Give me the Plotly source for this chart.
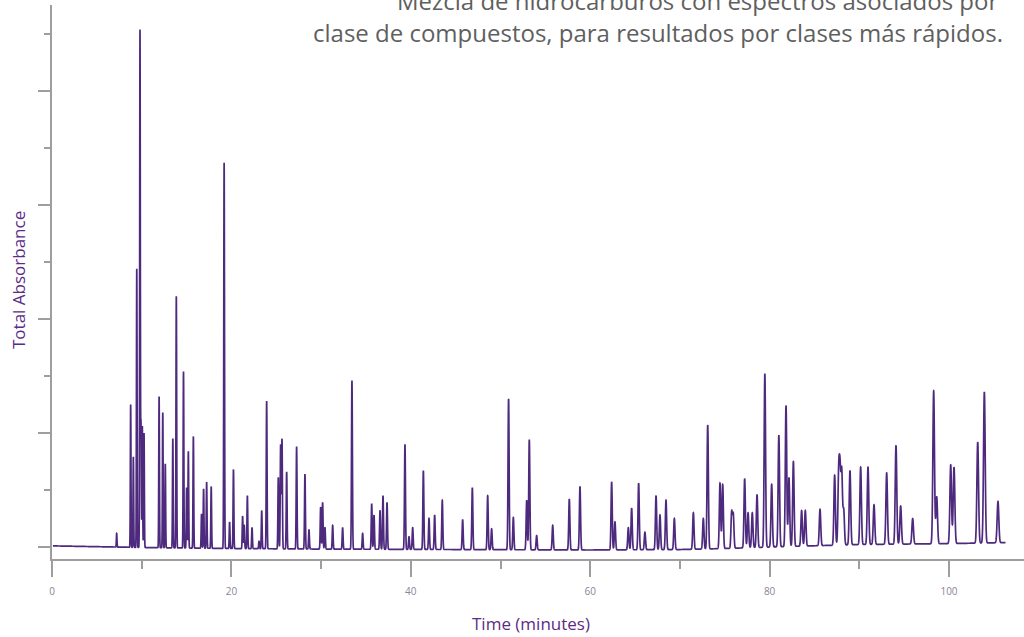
import numpy as np
import plotly.graph_objects as go

# Retention times (min) and apex absorbance of the resolved peaks
peak_times = [
    7.21, 8.77, 9.07, 9.45, 9.81, 9.92, 10.07, 10.26, 11.94, 12.35,
    12.63, 13.47, 13.86, 14.66, 15.01, 15.20, 15.76, 16.67, 16.90, 17.24,
    17.75, 19.19, 19.80, 20.23, 21.25, 21.43, 21.78, 22.30, 23.08, 23.38,
    23.93, 25.23, 25.49, 25.64, 26.16, 27.27, 28.20, 28.65, 29.95, 30.17,
    30.43, 31.29, 32.40, 33.44, 34.63, 35.64, 35.90, 36.57, 36.90, 37.35,
    39.35, 39.80, 40.21, 41.40, 42.03, 42.66, 43.51, 45.78, 46.86, 48.57,
    49.01, 50.90, 51.43, 52.92, 53.21, 54.03, 55.82, 57.67, 58.86, 62.39,
    62.76, 64.25, 64.62, 65.40, 66.10, 67.34, 67.78, 68.45, 69.38, 71.50,
    72.61, 73.10, 74.47, 74.77, 75.77, 75.95, 77.22, 77.60, 78.07, 78.60,
    79.47, 80.23, 81.03, 81.83, 82.16, 82.65, 83.57, 83.98, 85.62, 87.25,
    87.70, 87.85, 88.04, 88.26, 88.96, 90.15, 90.97, 91.64, 93.05, 94.09,
    94.61, 95.95, 98.29, 98.63, 100.19, 100.56, 103.20, 103.94, 105.46,
]
peak_heights = [
    0.12, 1.25, 0.79, 2.44, 4.54, 1.11, 1.06, 1.00, 1.32, 1.18,
    0.73, 0.95, 2.20, 1.54, 0.52, 0.84, 0.97, 0.29, 0.51, 0.57,
    0.53, 3.37, 0.22, 0.68, 0.27, 0.19, 0.45, 0.17, 0.05, 0.32,
    1.28, 0.61, 0.90, 0.95, 0.66, 0.88, 0.64, 0.15, 0.35, 0.39,
    0.17, 0.19, 0.17, 1.46, 0.12, 0.38, 0.28, 0.32, 0.45, 0.39,
    0.90, 0.09, 0.17, 0.67, 0.25, 0.28, 0.41, 0.24, 0.52, 0.45,
    0.16, 1.30, 0.26, 0.41, 0.94, 0.10, 0.19, 0.42, 0.53, 0.57,
    0.22, 0.17, 0.34, 0.56, 0.13, 0.45, 0.28, 0.41, 0.25, 0.30,
    0.25, 1.07, 0.56, 0.55, 0.32, 0.30, 0.60, 0.30, 0.30, 0.46,
    1.52, 0.55, 0.98, 1.24, 0.61, 0.75, 0.32, 0.32, 0.33, 0.63,
    0.73, 0.78, 0.70, 0.34, 0.67, 0.70, 0.70, 0.37, 0.65, 0.89,
    0.36, 0.25, 1.37, 0.44, 0.72, 0.70, 0.92, 1.36, 0.40,
]

# Baseline drift over the run
baseline_times = [0.1, 10, 20, 30, 45, 60, 70, 75, 80, 90, 100, 106.3]
baseline_levels = [0.01, -0.004, -0.013, -0.018, -0.022, -0.026, -0.022,
                   -0.013, 0.0, 0.022, 0.030, 0.039]

run_start, run_end = 0.1, 106.3

PURPLE = "#4e2a7e"
AXIS_GREY = "#9e9e9e"
FONT = "Open Sans"

# Peak profiles: Gaussian, widening slowly with retention time
pt = np.asarray(peak_times)
ph = np.asarray(peak_heights)
sig = 0.03 + 0.0006 * pt

# Scale each profile so the summed trace reaches the listed apex values
above_base = ph - np.interp(pt, baseline_times, baseline_levels)
overlap = np.exp(-0.5 * ((pt[:, None] - pt[None, :]) / sig[None, :]) ** 2)
amps = np.linalg.solve(overlap, above_base)

t = np.union1d(np.arange(run_start, run_end, 0.004), pt)
signal = np.interp(t, baseline_times, baseline_levels)
for tp, a, s in zip(pt, amps, sig):
    signal = signal + a * np.exp(-0.5 * ((t - tp) / s) ** 2)

fig = go.Figure(
    go.Scatter(
        x=t, y=signal, mode="lines",
        line=dict(color=PURPLE, width=1.7, simplify=False),
        hoverinfo="skip", showlegend=False,
    )
)

fig.update_layout(
    width=1024, height=637,
    margin=dict(l=52, r=0, t=5, b=78),
    paper_bgcolor="white", plot_bgcolor="white",
    font=dict(family=FONT),
    xaxis=dict(
        range=[0, 108.36],
        showgrid=False, zeroline=False,
        showline=True, linecolor=AXIS_GREY, linewidth=2,
        ticks="outside", tick0=0, dtick=20, ticklen=16, tickwidth=2,
        tickcolor=AXIS_GREY,
        minor=dict(ticks="outside", dtick=10, ticklen=8, tickwidth=2,
                   tickcolor=AXIS_GREY),
        tickfont=dict(family=FONT, size=10, color="#8a8599"),
        ticklabelstandoff=6,
    ),
    yaxis=dict(
        range=[-0.105, 4.754],
        showgrid=False, zeroline=False,
        showline=True, linecolor=AXIS_GREY, linewidth=2,
        ticks="outside", tick0=0, dtick=1, ticklen=12, tickwidth=2,
        tickcolor=AXIS_GREY,
        minor=dict(ticks="outside", dtick=0.5, ticklen=6, tickwidth=2,
                   tickcolor=AXIS_GREY),
        showticklabels=False,
    ),
    annotations=[
        dict(text="Mezcla de hidrocarburos con espectros asociados por",
             xref="paper", yref="paper", x=0.975, y=(559 - 1) / 554,
             xanchor="right", yanchor="middle", showarrow=False,
             font=dict(family=FONT, size=24, color="#5f5f5f")),
        dict(text="clase de compuestos, para resultados por clases más rápidos.",
             xref="paper", yref="paper", x=0.980, y=(559 - 32) / 554,
             xanchor="right", yanchor="middle", showarrow=False,
             font=dict(family=FONT, size=24, color="#5f5f5f")),
        dict(text="Time (minutes)",
             xref="paper", yref="paper", x=(531 - 52) / 972, y=(559 - 624) / 554,
             xanchor="center", yanchor="middle", showarrow=False,
             font=dict(family=FONT, size=17, color="#5b2c86")),
        dict(text="Total Absorbance", textangle=-90,
             xref="paper", yref="paper", x=(18 - 52) / 972, y=(559 - 280) / 554,
             xanchor="center", yanchor="middle", showarrow=False,
             font=dict(family=FONT, size=17, color="#5b2c86")),
    ],
)

fig.write_html("out.html")
